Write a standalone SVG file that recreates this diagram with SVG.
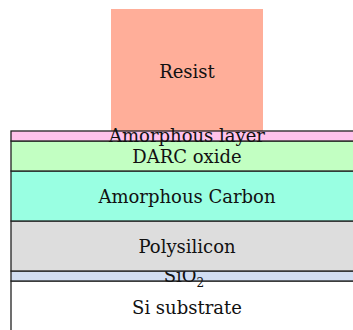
<svg xmlns="http://www.w3.org/2000/svg" width="353" height="330" viewBox="0 0 353 330">
<style>
.l{stroke:#222;stroke-width:1.3}
.t{font-family:"DejaVu Serif",serif;font-size:18px;fill:#111;text-anchor:middle}
</style>
<rect width="353" height="330" fill="#fff"/>
<g id="resist"><rect x="111" y="9" width="152" height="122" fill="#FFAE99"/><text class="t" x="187" y="78">Resist</text></g>
<g id="substrate"><rect class="l" x="11" y="281" width="350" height="60" fill="#fff"/><text class="t" x="187" y="314">Si substrate</text></g>
<g id="sio2"><rect class="l" x="11" y="271" width="350" height="10" fill="#D2DEF2"/><text class="t" x="184" y="282">SiO<tspan font-size="12" dy="5">2</tspan></text></g>
<g id="polysilicon"><rect class="l" x="11" y="221" width="350" height="50" fill="#DDDDDD"/><text class="t" x="187" y="253">Polysilicon</text></g>
<g id="carbon"><rect class="l" x="11" y="171" width="350" height="50" fill="#99FFE2"/><text class="t" x="187" y="203">Amorphous Carbon</text></g>
<g id="darc"><rect class="l" x="11" y="141" width="350" height="30" fill="#C2FFC2"/><text class="t" x="187" y="163">DARC oxide</text></g>
<g id="amorphous"><rect class="l" x="11" y="131" width="350" height="10" fill="#FFC2EB"/><text class="t" x="187" y="142">Amorphous layer</text></g>
</svg>
